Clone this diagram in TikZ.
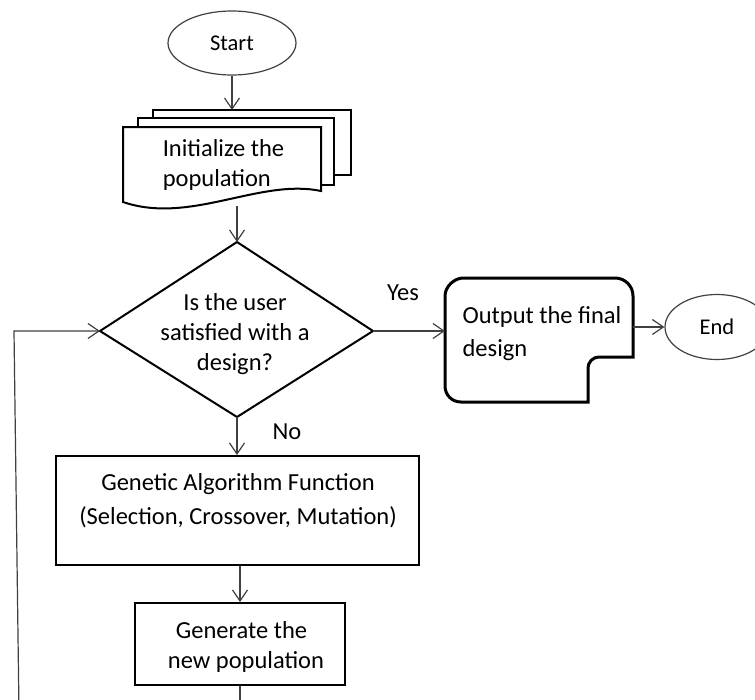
\documentclass[tikz,border=0pt]{standalone}
\usepackage{fontspec}
\setmainfont{Carlito}
\usetikzlibrary{arrows.meta,shapes.geometric}
\begin{document}
\begin{tikzpicture}[x=1pt,y=-1pt,
  conn/.style={draw=black!75, line width=1.2pt, -{Straight Barb[length=11pt,width=15pt]}},
  plain/.style={draw=black!75, line width=1.2pt},
  shp/.style={draw=black, line width=2pt},
  txt/.style={font=\fontsize{24.5}{30}\selectfont, inner sep=0pt},
  lbl/.style={font=\fontsize{24.5}{29}\selectfont, inner sep=0pt},
  term/.style={ellipse, draw=black!75, line width=1.2pt, inner sep=0pt, font=\fontsize{22.5}{26}\selectfont}]
\useasboundingbox (0,0) rectangle (755,699);

% Start
\node[term, minimum width=128pt, minimum height=64pt] (start) at (232,43) {Start};

% multi-document
\draw[shp] (153,118) -- (153,110) -- (351,110) -- (351,175) -- (334,175);
\draw[shp] (138,127) -- (138,118) -- (334,118) -- (334,185) -- (321,185);
\draw[shp] (123,202) -- (123,127) -- (321,127) -- (321,191)
  .. controls (260,178) and (190,225) .. (123,202) -- cycle;
\node[txt, align=left] (doc) at (223.5,164.5) {Initialize the\\population};
\coordinate (docTop) at (232,110);
\coordinate (docBot) at (237,206);

% decision
\coordinate (dT) at (237,242);
\coordinate (dR) at (373,331);
\coordinate (dB) at (237,417);
\coordinate (dL) at (100,331);
\draw[shp] (dT) -- (dR) -- (dB) -- (dL) -- cycle;
\node[txt, align=center] (q) at (235,334.5) {Is the user\\satisfied with a\hspace*{26pt}\\design?};

% output
\draw[line width=3pt] (445,296) .. controls (445,286) and (455,278) .. (463,278) -- (615,278)
  .. controls (625,278) and (633,286) .. (633,296) -- (633,357) -- (599,357)
  .. controls (593,357) and (588,362) .. (588,368) -- (588,402) -- (461,402)
  .. controls (452,402) and (445,395) .. (445,386) -- cycle;
\node[font=\fontsize{24.5}{33}\selectfont, inner sep=0pt, align=left] (out) at (542,334) {Output the final\\design};
\coordinate (outL) at (445,331);
\coordinate (outR) at (633,327);

% end
\node[term, minimum width=104pt, minimum height=65pt] (end) at (717,327) {End};

% labels
\node[lbl] (yes) at (403,293) {Yes};
\node[lbl] (no) at (287,432) {No};

% GA box
\node[shp, minimum width=363pt, minimum height=109pt, inner sep=0pt] (ga) at (237,510.5) {};
\node[font=\fontsize{24.5}{34}\selectfont, inner sep=0pt, align=center] (gat) at (238,501)
  {Genetic Algorithm Function\\(Selection, Crossover, Mutation)};

% Generate box
\node[shp, minimum width=210pt, minimum height=82pt, inner sep=0pt] (gen) at (240,644) {};
\node[font=\fontsize{24.5}{30}\selectfont, inner sep=0pt, align=center] (gent) at (246,646.5)
  {Generate the\hspace*{9pt}\\new population};

% connectors
\draw[conn] (start.south) -- (docTop);
\draw[conn] (docBot) -- (dT);
\draw[conn] (dR) -- (outL);
\draw[conn] (outR) -- (end.west);
\draw[conn] (dB) -- (ga.north);
\draw[conn] (ga.south -| gen.north) -- (gen.north);
\coordinate (genOut) at (240,712);
\draw[plain] (gen.south) -- (genOut);
\coordinate (loopB) at (19,712);
\coordinate (loopC) at (14,331);
\draw[conn] (loopB) -- (loopC) -- (dL);
\end{tikzpicture}
\end{document}
